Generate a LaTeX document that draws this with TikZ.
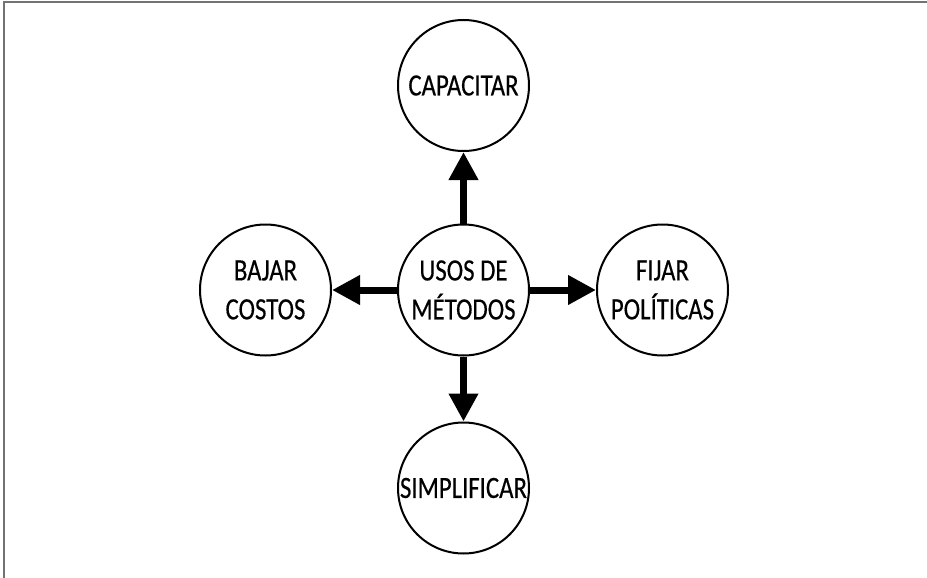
\documentclass[tikz,border=0pt]{standalone}
\usepackage{fontspec}
\setmainfont{Carlito}[FakeStretch=0.8,FakeBold=0.4]
\usetikzlibrary{arrows.meta}
\begin{document}
\begin{tikzpicture}[x=1pt,y=-1pt,
  bubble/.style={circle,draw=black,line width=2pt,minimum size=131pt,inner sep=0pt,
    align=center,font=\fontsize{31}{39}\selectfont},
  conn/.style={line width=7pt,-{Triangle[width=28pt,length=28pt]}},
  frame/.style={draw=black!55,line width=2pt}]
\useasboundingbox (0,0) rectangle (927,578);
\draw[frame] (3.5,578) -- (3.5,2.5) -- (927,2.5);
\node[bubble] (c) at (463.5,290) {USOS DE\\MÉTODOS};
\node[bubble] (t) at (463.5,85.5) {CAPACITAR};
\node[bubble] (b) at (463.5,488) {SIMPLIFICAR};
\node[bubble] (l) at (265.5,290) {BAJAR\\COSTOS};
\node[bubble] (r) at (662.5,290) {FIJAR\\POLÍTICAS};
\draw[conn] (c.north) -- (t.south);
\draw[conn] (c.south) -- (b.north);
\draw[conn] (c.west) -- (l.east);
\draw[conn] (c.east) -- (r.west);
\end{tikzpicture}
\end{document}
